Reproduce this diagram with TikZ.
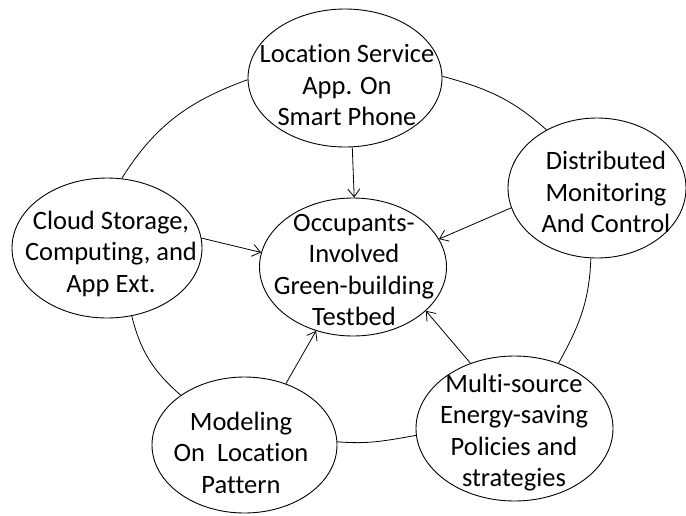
\documentclass[tikz,border=0pt]{standalone}
\usepackage{fontspec}
\setmainfont{Carlito}[Ligatures=NoCommon]
\usetikzlibrary{arrows.meta,shapes.geometric}
\tikzset{
  oval/.style={draw, ellipse, line width=0.9pt, inner sep=0pt},
  lbl/.style={align=center, inner sep=0pt, font=\fontsize{26.5}{31.5}\selectfont},
  link/.style={line width=0.8pt},
  feed/.style={line width=0.8pt, -{Straight Barb[length=8pt,width=12pt,line width=0.8pt]}}
}
\begin{document}
\begin{tikzpicture}[x=1pt,y=-1pt]
\useasboundingbox (0,0) rectangle (686,515);
% ellipses
\node[oval, minimum width=194pt, minimum height=138pt] (loc) at (345,78) {};
\node[oval, minimum width=178pt, minimum height=140pt] (dmc) at (597,188) {};
\node[oval, minimum width=190pt, minimum height=140pt] (cloud) at (107,248) {};
\node[oval, minimum width=187pt, minimum height=138pt] (cen) at (353,267) {};
\node[oval, minimum width=185pt, minimum height=136pt] (model) at (244.5,445) {};
\node[oval, minimum width=197pt, minimum height=145pt] (multi) at (514.5,428.5) {};
% texts
\node[lbl] (locT) at (347,85) {Location Service\\App. On\\Smart Phone};
\node[lbl] (dmcT) at (606,192) {Distributed\\Monitoring\\And Control};
\node[lbl] (cloudT) at (111,253.5) {Cloud Storage,\\Computing, and\\App Ext.};
\node[lbl] (cenT) at (354,270) {Occupants-\\Involved\\Green-building\\Testbed};
\node[lbl] (modelT) at (241,452.5) {Modeling\\On~ Location\\Pattern};
\node[lbl] (multiT) at (514,432.5) {Multi-source\\Energy-saving\\Policies and\\strategies};
% ring links
\draw[link] (loc.181) to[out=200, in=58] (cloud.78);
\draw[link] (loc.1) to[out=-15, in=138] (dmc.131);
\draw[link] (dmc.265) to[out=-92, in=61] (multi.56);
\draw[link] (multi.184) to[out=190, in=-5] (model.2);
\draw[link] (cloud.-70) to[out=-76, in=139] (model.142);
% arrows to centre
\draw[feed] (loc.-84) -- (cen.89);
\draw[feed] (cloud.6) -- (cen.171);
\draw[feed] (dmc.193) -- (cen.18);
\draw[feed] (model.56) -- (cen.240);
\draw[feed] (multi.124) -- (cen.-31);
\end{tikzpicture}
\end{document}
